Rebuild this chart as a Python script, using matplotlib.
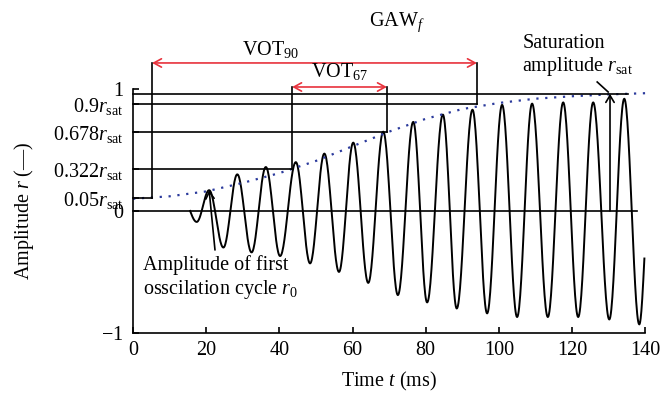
import numpy as np
import matplotlib.pyplot as plt

plt.rcParams['font.family'] = 'Liberation Serif'
plt.rcParams['mathtext.fontset'] = 'custom'
plt.rcParams['mathtext.rm'] = 'Liberation Serif'
plt.rcParams['mathtext.it'] = 'Liberation Serif:italic'

# signal extremes (time in ms, amplitude)
ext_t = [15.6, 17.4, 20.8, 24.7, 28.5, 32.4, 36.3, 40.2, 44.5, 48.4, 52.3, 56.3,
         60.2, 64.3, 68.4, 72.4, 76.6, 80.4, 84.7, 88.5, 92.8, 96.8, 100.9, 105.0,
         109.1, 113.4, 117.6, 121.7, 125.8, 130.2, 134.3, 138.4, 139.8]
ext_r = [0.0, -0.09, 0.17, -0.30, 0.30, -0.34, 0.36, -0.37, 0.40, -0.43, 0.47, -0.50,
         0.56, -0.59, 0.65, -0.69, 0.73, -0.75, 0.79, -0.80, 0.83, -0.84, 0.87, -0.87,
         0.88, -0.87, 0.89, -0.87, 0.89, -0.89, 0.92, -0.93, -0.39]

# envelope (dotted blue)
env_t = [0, 10, 20, 30, 40, 50, 60, 70, 80, 90, 100, 110, 120, 130, 140]
env_r = [0.10, 0.12, 0.16, 0.23, 0.31, 0.41, 0.53, 0.65, 0.755, 0.835, 0.885, 0.92, 0.94, 0.955, 0.965]

# threshold levels
r_sat = 0.96
lvl_labels = ['$-1$', '0', r'$0.05r_{\mathrm{sat}}$', r'$0.322r_{\mathrm{sat}}$',
              r'$0.678r_{\mathrm{sat}}$', r'$0.9r_{\mathrm{sat}}$', '1']
lvl_vals = [-1, 0, 0.107, 0.34, 0.65, 0.877, 1]

t5, t33, t67, t95 = 5.2, 43.5, 69.4, 94.0
t_sat = 130.4

# build a smooth oscillation between the read extremes
sx, sy = [], []
n = len(ext_t)
for i in range(n - 1):
    s = np.linspace(0, 1, 30)
    a, b = ext_r[i], ext_r[i + 1]
    if i == 0:
        w = np.sin(s * np.pi / 2)
    elif i == n - 2:
        w = 1 - np.cos(s * np.pi / 2)
    else:
        w = (1 - np.cos(np.pi * s)) / 2
    sx.extend(ext_t[i] + (ext_t[i + 1] - ext_t[i]) * s)
    sy.extend(a + (b - a) * w)

fig = plt.figure(figsize=(6.72, 4.08), dpi=100)
ax = fig.add_axes([0.198, 0.184, 0.762, 0.598])

ax.plot(sx, sy, color='black', lw=1.4, clip_on=False)
ax.plot(env_t, env_r, color='#2b3a9c', lw=1.6, ls=(0, (1, 3)), clip_on=False)

k = dict(color='black', lw=1.2, clip_on=False)
ax.plot([0, 137.8], [0, 0], **k)
ax.plot([0, 135.4], [r_sat, r_sat], **k)
ax.plot([0, t5], [0.107, 0.107], **k)
ax.plot([0, t33], [0.34, 0.34], **k)
ax.plot([0, t67], [0.65, 0.65], **k)
ax.plot([0, t95], [0.877, 0.877], **k)

y90, y67 = 1.213, 1.016
ax.plot([t5, t5], [0.107, y90], **k)
ax.plot([t95, t95], [0.877, y90], **k)
ax.plot([t33, t33], [0.34, y67], **k)
ax.plot([t67, t67], [0.65, y67], **k)

red = dict(arrowstyle='<->,head_length=0.55,head_width=0.3', color='#e8323c', lw=1.2,
           shrinkA=0, shrinkB=0)
ax.annotate('', xy=(t5, y90), xytext=(t95, y90), arrowprops=red, annotation_clip=False)
ax.annotate('', xy=(t33, y67), xytext=(t67, y67), arrowprops=red, annotation_clip=False)

blk = dict(arrowstyle='->,head_length=0.5,head_width=0.3', color='black', lw=1.2,
           shrinkA=0, shrinkB=0)
ax.annotate('', xy=(t_sat, r_sat), xytext=(t_sat, 0), arrowprops=blk, annotation_clip=False)
ax.annotate('', xy=(20.8, 0.17), xytext=(22.4, -0.32), arrowprops=blk, annotation_clip=False)
ax.plot([126.9, 129.9], [1.057, 0.975], **k)

fs = 14.5
ax.text(37.5, 1.32, r'VOT$_{90}$', fontsize=fs, ha='center', va='center')
ax.text(56.5, 1.14, r'VOT$_{67}$', fontsize=fs, ha='center', va='center')
ax.text(72.0, 1.55, r'GAW$_f$', fontsize=fs, ha='center', va='center')
ax.text(106.4, 1.45, 'Saturation\namplitude $r_{\\mathrm{sat}}$', fontsize=fs,
        ha='left', va='top', linespacing=1.15)
ax.text(2.7, -0.36, 'Amplitude of first\nosscilation cycle $r_0$', fontsize=fs,
        ha='left', va='top', linespacing=1.2)

ax.set_xlim(0, 140)
ax.set_ylim(-1, 1)
ax.spines['top'].set_visible(False)
ax.spines['right'].set_visible(False)
ax.spines['left'].set_linewidth(1.2)
ax.spines['bottom'].set_linewidth(1.2)
ax.set_xticks([0, 20, 40, 60, 80, 100, 120, 140])
ax.set_yticks(lvl_vals)
ax.set_yticklabels(lvl_labels)
ax.tick_params(direction='in', length=4, width=1.2, labelsize=fs)
ax.tick_params(axis='x', pad=6)
ax.tick_params(axis='y', pad=7)
ax.set_xlabel('Time $t$ (ms)', fontsize=fs, labelpad=7)
ax.set_ylabel('Amplitude $r$ (—)', fontsize=fs, labelpad=12)

fig.savefig('out.png', dpi=100)
